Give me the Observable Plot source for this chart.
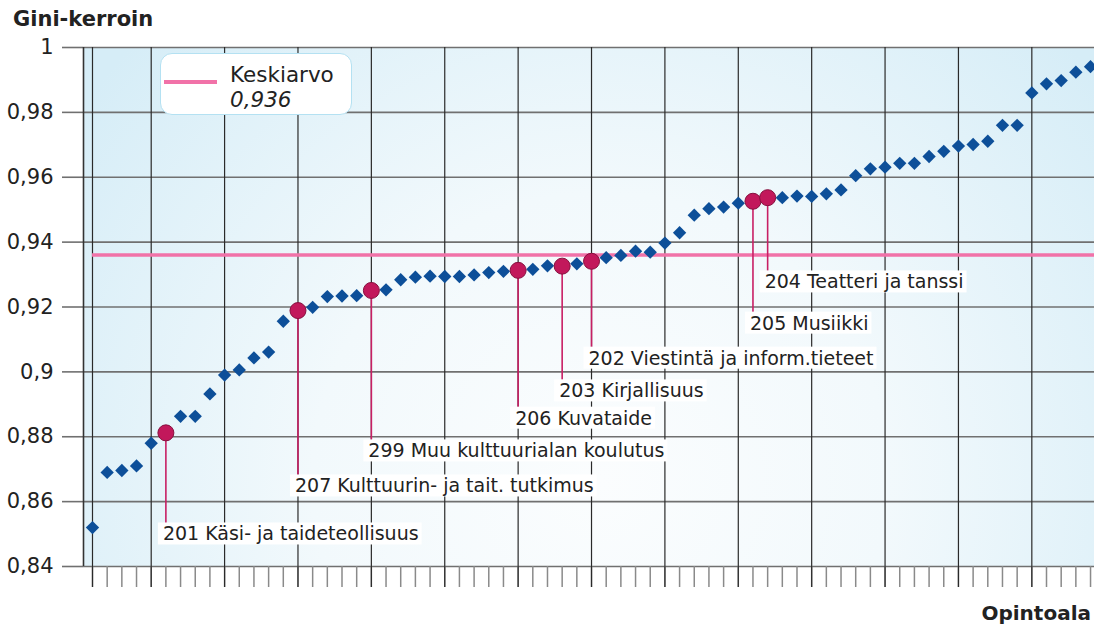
<!DOCTYPE html>
<html><head><meta charset="utf-8">
<script src="https://cdn.jsdelivr.net/npm/d3@7"></script>
<script src="https://cdn.jsdelivr.net/npm/@observablehq/plot@0.6"></script>
<style>
body{margin:0;background:#fff;font-family:"DejaVu Sans",Verdana,sans-serif;color:#222;}
#wrap{position:relative;width:1094px;height:625px;overflow:hidden;}
#wrap svg{position:absolute;left:0;top:0;}
.ttl{position:absolute;font-weight:bold;font-size:20px;line-height:20px;color:#222;white-space:nowrap;}
#ytitle{left:13px;top:9px;font-size:21px;line-height:21px;}
#xtitle{right:3px;top:603px;}
#legend{position:absolute;left:160px;top:53px;width:190px;height:60px;background:#fff;border:1.5px solid #b4e1f2;border-radius:12px;}
#legend .sw{position:absolute;left:3px;top:26px;width:53px;height:4px;background:#f172a8;}
#legend .t{position:absolute;left:69px;font-size:21.5px;line-height:21.5px;white-space:nowrap;color:#222;}
</style></head>
<body>
<div id="wrap">
  <div id="chart"></div>
  <div class="ttl" id="ytitle">Gini-kerroin</div>
  <div class="ttl" id="xtitle">Opintoala</div>
  <div id="legend"><div class="sw"></div><div class="t" style="top:10px">Keskiarvo</div><div class="t" style="top:35px;font-style:italic">0,936</div></div>
</div>
<script>
// Gini coefficient per field of study (opintoala), sorted ascending
const gini = [
  0.852, 0.869, 0.8696, 0.871, 0.878, 0.8812, 0.8863, 0.8863, 0.8932, 0.899,
  0.9006, 0.9043, 0.9061, 0.9156, 0.9189, 0.9199, 0.9232, 0.9234, 0.9235, 0.9251,
  0.9253, 0.9284, 0.9292, 0.9295, 0.9294, 0.9294, 0.9299, 0.9306, 0.931, 0.9313,
  0.9316, 0.9327, 0.9326, 0.9333, 0.9341, 0.9352, 0.9359, 0.9372, 0.9369, 0.9397,
  0.9429, 0.9483, 0.9503, 0.9508, 0.952, 0.9526, 0.9537, 0.9537, 0.9542, 0.9541,
  0.9549, 0.9561, 0.9605, 0.9626, 0.9631, 0.9643, 0.9643, 0.9664, 0.968, 0.9696,
  0.9701, 0.9711, 0.976, 0.976, 0.986, 0.9888, 0.9898, 0.9924, 0.9941
];
const meanValue = 0.936;
// highlighted fields (rank = position in sorted list, 1-based)
const hlLabels = [
  "201 Käsi- ja taideteollisuus",
  "207 Kulttuurin- ja tait. tutkimus",
  "299 Muu kulttuurialan koulutus",
  "206 Kuvataide",
  "203 Kirjallisuus",
  "202 Viestintä ja inform.tieteet",
  "205 Musiikki",
  "204 Teatteri ja tanssi"
];
const hlRanks = [6, 15, 20, 30, 33, 35, 46, 47];
// vertical level (in Gini units) where each label sits
const hlLabelLevels = [0.8499, 0.8647, 0.8755, 0.8856, 0.8940, 0.9041, 0.9149, 0.9276];
const yTicks = [0.84, 0.86, 0.88, 0.9, 0.92, 0.94, 0.96, 0.98, 1];
const gridRanks = [1, 5, 10, 15, 20, 25, 30, 35, 40, 45, 50, 55, 60, 65];

const hlSet = new Set(hlRanks);
const rows = gini.map((v, i) => ({rank: i + 1, v}));
const plain = rows.filter(d => !hlSet.has(d.rank));
const hl = hlRanks.map((r, k) => ({rank: r, v: gini[r - 1], label: hlLabels[k], ly: hlLabelLevels[k]}));
const pxPerUnit = 519 / 0.16;
const tickBottom = 0.84 - 21 / pxPerUnit;

const chart = Plot.plot({
  width: 1094, height: 625,
  marginLeft: 83, marginRight: 0, marginTop: 47, marginBottom: 59,
  x: {type: "linear", domain: [0.387, 69.27], axis: null},
  y: {domain: [0.84, 1], axis: null},
  style: {fontFamily: "DejaVu Sans, Verdana, sans-serif", background: "transparent", overflow: "visible"},
  marks: [
    Plot.frame({fill: "url(#bgGrad)", stroke: null}),
    Plot.ruleY(yTicks, {stroke: "#707070", strokeWidth: 1.6}),
    Plot.axisY({ticks: yTicks, tickSize: 21, tickPadding: 9, fontSize: 21,
      tickFormat: d => String(d).replace(".", ","), stroke: "#707070", strokeWidth: 1.6, fill: "#222"}),
    Plot.ruleX(d3.range(1, gini.length + 1), {y1: tickBottom, y2: 0.84, stroke: "#8a8a8a", strokeWidth: 1.5}),
    Plot.ruleX(gridRanks, {y1: tickBottom, y2: 1, stroke: "#2a2a2a", strokeWidth: 1.2}),
    Plot.ruleX([0.387], {y1: 0.84, y2: 1, stroke: "#333", strokeWidth: 1.6}),
    Plot.ruleY([meanValue], {x1: 1, x2: 69.27, stroke: "#f172a8", strokeWidth: 3.5}),
    Plot.ruleX(hl, {x: "rank", y1: "v", y2: d => d.ly + 11 / pxPerUnit, stroke: "#c81f64", strokeWidth: 1.6}),
    Plot.text(hl, {x: "rank", y: "ly", text: "label", textAnchor: "start", dx: -3, fontSize: 19, fill: "#222"}),
    Plot.dot(plain, {x: "rank", y: "v", symbol: "diamond2", r: 6, fill: "#0d4f99", stroke: null}),
    Plot.dot(hl, {x: "rank", y: "v", r: 8, fill: "#c2185b", stroke: "#86103e", strokeWidth: 1})
  ]
});
document.getElementById("chart").appendChild(chart);

// background gradient
const svg = d3.select(chart);
const defs = svg.insert("defs", ":first-child");
const g = defs.append("radialGradient").attr("id", "bgGrad")
  .attr("gradientUnits", "userSpaceOnUse").attr("cx", 600).attr("cy", 480).attr("r", 640);
g.append("stop").attr("offset", 0).attr("stop-color", "#fbfdfe");
g.append("stop").attr("offset", 0.45).attr("stop-color", "#f2f9fc");
g.append("stop").attr("offset", 1).attr("stop-color", "#d6edf7");

// white boxes behind annotation labels
const labelSet = new Set(hlLabels);
svg.selectAll("text").each(function() {
  if (!labelSet.has(this.textContent)) return;
  const b = this.getBBox();
  const r = document.createElementNS("http://www.w3.org/2000/svg", "rect");
  r.setAttribute("x", b.x - 5); r.setAttribute("y", b.y);
  r.setAttribute("width", b.width + 8); r.setAttribute("height", b.height);
  r.setAttribute("fill", "#fff");
  const tr = this.getAttribute("transform"); if (tr) r.setAttribute("transform", tr);
  this.parentNode.insertBefore(r, this);
});
</script>
</body></html>
